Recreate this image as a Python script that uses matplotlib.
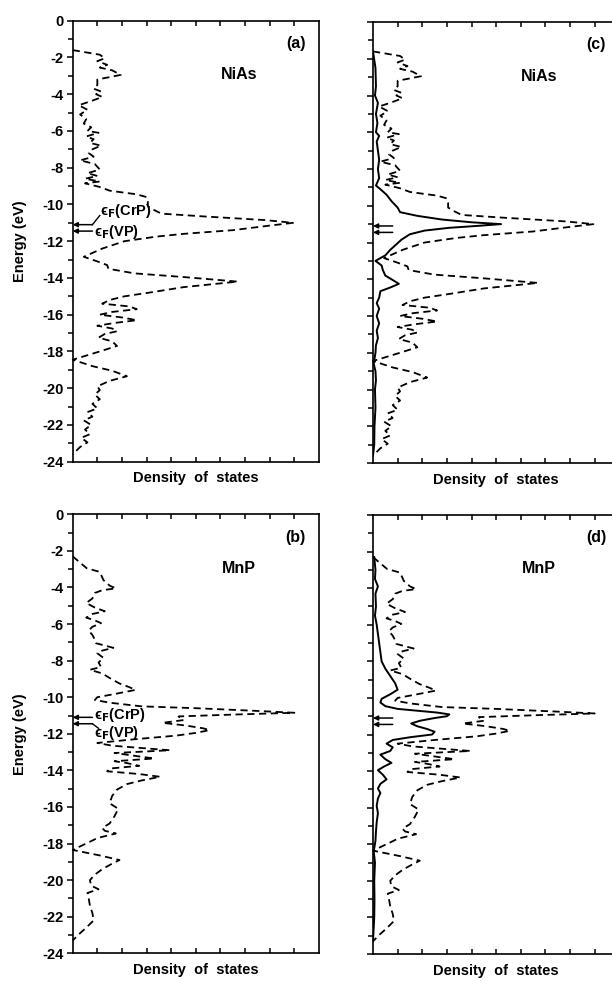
import matplotlib
matplotlib.use("Agg")
import matplotlib.pyplot as plt

plt.rcParams['font.family'] = ['Liberation Sans', 'DejaVu Sans']
plt.rcParams['mathtext.fontset'] = 'dejavusans'

# ---------------- data (energy in eV, DOS in tick units) ----------------
nias_total_E = [-1.6, -1.85, -2.05, -2.2, -2.4, -2.55, -2.7, -2.95, -3.2, -3.5, -3.7, -3.85,
                -4.0, -4.15, -4.35, -4.6, -4.85, -5.1, -5.35, -5.6, -5.8, -6.0, -6.1, -6.3,
                -6.45, -6.65, -6.8, -7.0, -7.2, -7.4, -7.6, -7.8, -8.1, -8.3, -8.45, -8.6,
                -8.75, -8.85, -9.05, -9.25, -9.45, -9.6, -9.85, -10.1, -10.3, -10.5, -10.65,
                -10.85, -11.0, -11.15, -11.4, -11.6, -11.75, -12.0, -12.4, -12.85, -13.1,
                -13.3, -13.5, -13.75, -13.95, -14.2, -14.5, -14.8, -15.0, -15.2, -15.4,
                -15.55, -15.7, -15.85, -16.0, -16.15, -16.3, -16.45, -16.6, -16.75, -16.9,
                -17.05, -17.25, -17.45, -17.7, -18.0, -18.45, -18.8, -19.05, -19.35, -19.6,
                -19.9, -20.1, -20.35, -20.6, -20.85, -21.1, -21.3, -21.55, -21.75, -22.0,
                -22.25, -22.5, -22.7, -22.95, -23.2, -23.6]
nias_total_D = [0.0, 1.1, 1.3, 1.0, 1.4, 1.1, 1.6, 1.95, 1.0, 1.0, 0.85, 1.15,
                0.95, 1.2, 0.8, 0.25, 0.6, 0.3, 0.55, 0.45, 0.75, 0.6, 1.05, 0.55,
                0.85, 0.7, 1.15, 0.8, 0.65, 0.85, 0.3, 0.9, 1.1, 0.6, 1.0, 0.5,
                1.1, 0.5, 1.1, 1.5, 2.6, 3.0, 3.05, 3.05, 3.3, 3.6, 5.3,
                7.8, 8.95, 8.0, 6.5, 4.5, 3.4, 2.1, 1.2, 0.45, 1.0,
                1.4, 1.45, 2.5, 4.5, 6.7, 4.5, 3.1, 2.1, 1.5, 1.2,
                2.3, 2.6, 1.6, 1.1, 2.0, 2.6, 1.7, 1.0, 1.6, 1.8,
                1.3, 1.05, 1.6, 1.8, 1.1, 0.0, 0.8, 1.6, 2.2, 1.5,
                1.0, 1.1, 0.9, 1.1, 0.8, 1.0, 0.6, 0.8, 0.45, 0.75,
                0.5, 0.7, 0.35, 0.6, 0.3, 0.0]

nias_part_E = [-1.6, -2.5, -3.5, -4.0, -4.4, -5.0, -5.5, -6.0, -6.2, -6.5, -7.0, -7.5, -8.0,
               -8.5, -8.9, -9.1, -9.4, -9.75, -10.1, -10.35, -10.55, -10.75, -10.9, -11.0,
               -11.1, -11.2, -11.35, -11.55, -11.85, -12.1, -12.4, -12.7, -13.0, -13.25,
               -13.5, -13.8, -14.0, -14.25, -14.45, -14.65, -15.0, -15.3, -15.6, -16.0,
               -16.4, -16.8, -17.2, -17.6, -18.0, -18.6, -19.0, -19.5, -20.0, -21.0, -22.0,
               -23.0, -23.6]
nias_part_D = [0.0, 0.1, 0.12, 0.08, 0.2, 0.12, 0.18, 0.12, 0.25, 0.15, 0.2, 0.25, 0.2,
               0.25, 0.12, 0.3, 0.55, 0.75, 1.0, 1.1, 1.8, 2.8, 4.0, 5.2,
               4.2, 3.1, 2.1, 1.5, 1.15, 0.95, 0.7, 0.5, 0.1, 0.35,
               0.4, 0.5, 0.75, 1.05, 0.7, 0.3, 0.25, 0.15, 0.25, 0.15,
               0.25, 0.15, 0.2, 0.12, 0.1, 0.03, 0.1, 0.12, 0.08, 0.1, 0.06,
               0.05, 0.0]

mnp_total_E = [-2.3, -2.95, -3.15, -3.6, -3.9, -4.05, -4.15, -4.3, -4.6, -4.85, -5.1, -5.3,
               -5.45, -5.65, -5.8, -5.95, -6.15, -6.35, -6.6, -6.85, -7.05, -7.3, -7.45,
               -7.6, -7.85, -8.1, -8.35, -8.5, -8.7, -8.95, -9.25, -9.45, -9.6, -9.8, -10.0,
               -10.15, -10.3, -10.5, -10.6, -10.75, -10.85, -10.95, -11.05, -11.25, -11.4,
               -11.55, -11.7, -11.8, -11.95, -12.1, -12.3, -12.5, -12.65, -12.8, -12.9,
               -13.05, -13.2, -13.35, -13.5, -13.6, -13.75, -13.9, -14.05, -14.2, -14.35,
               -14.55, -14.75, -15.05, -15.4, -15.8, -16.1, -16.5, -16.9, -17.15, -17.3,
               -17.45, -17.7, -17.9, -18.35, -18.65, -18.9, -19.1, -19.4, -19.7, -20.0,
               -20.3, -20.5, -20.7, -21.0, -21.4, -21.8, -22.2, -22.6, -22.9, -23.3]
mnp_total_D = [0.0, 0.57, 1.1, 1.25, 1.5, 1.75, 1.2, 0.9, 0.8, 0.55, 0.9, 1.3,
               0.8, 0.55, 0.9, 1.15, 0.8, 0.65, 0.8, 0.9, 0.95, 1.65, 1.2,
               1.0, 1.25, 1.05, 1.15, 0.7, 1.2, 1.5, 1.9, 2.3, 2.55, 1.8, 1.0,
               0.9, 1.5, 2.8, 5.0, 7.5, 9.0, 6.5, 4.3, 4.5, 3.65,
               4.6, 5.3, 5.55, 5.0, 4.2, 2.5, 1.0, 1.6, 3.0, 3.95,
               1.7, 2.5, 3.3, 1.7, 2.2, 2.7, 1.5, 1.4, 2.7, 3.55,
               2.8, 2.2, 1.8, 1.6, 1.5, 1.85, 1.7, 1.5, 1.2, 1.3,
               1.75, 1.0, 0.7, 0.0, 1.1, 1.9, 1.6, 1.2, 0.9, 0.7,
               0.75, 1.05, 0.6, 0.65, 0.7, 0.8, 0.85, 0.55, 0.3, 0.0]

mnp_part_E = [-2.3, -3.0, -3.5, -3.9, -4.3, -5.0, -5.5, -6.0, -6.5, -7.0, -7.5, -8.0, -8.4,
              -8.8, -9.2, -9.55, -9.8, -10.05, -10.25, -10.45, -10.6, -10.7, -10.8, -10.9,
              -11.0, -11.1, -11.25, -11.4, -11.55, -11.7, -11.85, -12.0, -12.15, -12.3,
              -12.5, -12.7, -12.9, -13.1, -13.35, -13.55, -13.75, -13.95, -14.2, -14.45,
              -14.7, -14.95, -15.2, -15.5, -15.9, -16.3, -16.8, -17.3, -17.8, -18.4, -19.0,
              -20.0, -21.0, -22.0, -23.3]
mnp_part_D = [0.05, 0.1, 0.08, 0.2, 0.1, 0.12, 0.08, 0.15, 0.2, 0.25, 0.3, 0.35, 0.5,
              0.7, 0.9, 1.0, 0.7, 0.35, 0.3, 0.5, 1.0, 1.8, 2.6, 3.1,
              3.0, 2.5, 1.9, 1.55, 1.8, 2.2, 2.5, 2.4, 1.5, 0.8,
              0.55, 0.8, 0.7, 0.3, 0.5, 0.75, 0.45, 0.2, 0.4, 0.55,
              0.3, 0.2, 0.3, 0.2, 0.15, 0.2, 0.15, 0.12, 0.1, 0.03, 0.08,
              0.05, 0.06, 0.05, 0.0]

fermi_E = [-11.1, -11.45]          # eF(CrP), eF(VP)
fermi_labels = [r'ϵ$_\mathbf{F}$(CrP)', r'ϵ$_\mathbf{F}$(VP)']
ytick_vals = list(range(0, -25, -2))
ytick_labels = ['0'] + ['-%d' % (-v) for v in ytick_vals[1:]]
panel_tags = ['(a)', '(b)', '(c)', '(d)']
compounds = ['NiAs', 'MnP', 'NiAs', 'MnP']

# ---------------- figure ----------------
W, H = 612, 981
fig = plt.figure(figsize=(W / 100, H / 100), dpi=100)

def fr(l, t, w, h):
    return [l / W, 1 - (t + h) / H, w / W, h / H]

ax_a = fig.add_axes(fr(72.7, 20.7, 246.3, 441))
ax_c = fig.add_axes(fr(373, 22, 246.3, 441))
ax_b = fig.add_axes(fr(72.7, 514.3, 246.3, 439))
ax_d = fig.add_axes(fr(373, 515, 246.3, 439))

dash = (0, (4, 2.5))
FS = 10

def style(ax, labels):
    ax.set_xlim(0, 10)
    ax.set_ylim(-24, 0)
    for s in ax.spines.values():
        s.set_linewidth(1.2)
    ax.set_yticks(ytick_vals)
    ax.set_yticks(range(-23, 0, 2), minor=True)
    if labels:
        ax.set_yticklabels(ytick_labels, fontsize=FS + 0.5, fontweight='bold')
    else:
        ax.set_yticklabels([])
    ax.tick_params(axis='y', which='major', direction='out', length=4.5, width=1.1, pad=2)
    ax.tick_params(axis='y', which='minor', direction='out', length=3.5, width=1.1)
    ax.set_xticks(range(1, 10))
    ax.set_xticklabels([])
    ax.tick_params(axis='x', which='major', direction='in', length=3.5, width=1.1,
                   top=True, bottom=True)
    ax.text(0.5, -0.038, 'Density  of  states', transform=ax.transAxes, ha='center',
            va='center', fontsize=FS + 0.5, fontweight='bold')

panels = [(ax_a, nias_total_E, nias_total_D, None, None, True, 0, 0),
          (ax_b, mnp_total_E, mnp_total_D, None, None, True, 1, 1),
          (ax_c, nias_total_E, nias_total_D, nias_part_E, nias_part_D, False, 2, 2),
          (ax_d, mnp_total_E, mnp_total_D, mnp_part_E, mnp_part_D, False, 3, 3)]

for ax, tE, tD, pE, pD, lab, ti, ci in panels:
    style(ax, lab)
    ax.plot(tD, tE, color='black', lw=1.3, linestyle=dash, clip_on=False)
    if pE is not None:
        ax.plot(pD, pE, color='black', lw=1.4, solid_joinstyle='round')
    ax.text(9.05, -1.25, panel_tags[ti], ha='center', va='center', fontsize=FS + 1.5,
            fontweight='bold')
    ax.text(6.75, -2.95, compounds[ci], ha='center', va='center', fontsize=FS + 1.5,
            fontweight='bold')
    for e in fermi_E:
        ax.annotate('', xy=(0, e), xytext=(0.8, e),
                    arrowprops=dict(arrowstyle='-|>', color='black', lw=1.1,
                                    mutation_scale=7, shrinkA=0, shrinkB=0))

# Fermi level labels in (a)
ax_a.plot([0.8, 1.1], [fermi_E[0], -10.6], color='black', lw=1.0)
ax_a.text(1.1, -10.38, fermi_labels[0], ha='left', va='center', fontsize=FS + 0.5,
          fontweight='bold')
ax_a.text(0.88, -11.5, fermi_labels[1], ha='left', va='center', fontsize=FS + 0.5,
          fontweight='bold')

# Fermi level labels in (b)
ax_b.text(0.85, -10.98, fermi_labels[0], ha='left', va='center', fontsize=FS + 0.5,
          fontweight='bold')
ax_b.plot([0.8, 1.05], [fermi_E[1], -11.7], color='black', lw=1.0)
ax_b.text(0.85, -11.95, fermi_labels[1], ha='left', va='center', fontsize=FS + 0.5,
          fontweight='bold')

fig.text(20 / W, 1 - 241 / H, 'Energy (eV)', rotation=90, ha='center', va='center',
         fontsize=FS + 0.5, fontweight='bold')
fig.text(20 / W, 1 - 734 / H, 'Energy (eV)', rotation=90, ha='center', va='center',
         fontsize=FS + 0.5, fontweight='bold')

fig.savefig('out.png', dpi=100)
